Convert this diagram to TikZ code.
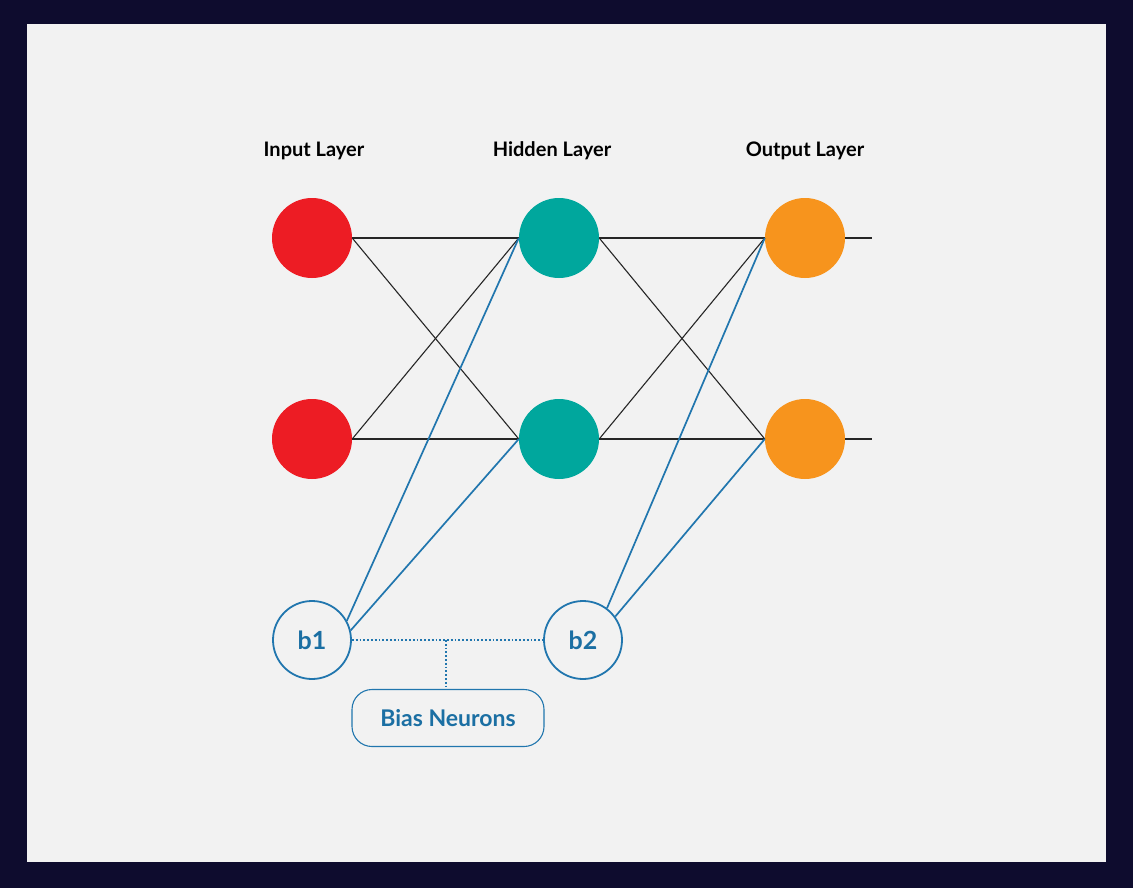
\documentclass[tikz,border=0pt]{standalone}
\usepackage{fontspec}
\setmainfont{Lato}
\definecolor{bgnavy}{HTML}{0E0C2E}
\definecolor{panel}{HTML}{F2F2F2}
\definecolor{inred}{HTML}{ED1C24}
\definecolor{hidteal}{HTML}{00A79D}
\definecolor{outorange}{HTML}{F7941D}
\definecolor{biasblue}{HTML}{2176AE}
\definecolor{biastext}{HTML}{1B6FA3}
\begin{document}
\begin{tikzpicture}[x=1pt,y=-1pt,
  neuron/.style={circle,minimum size=80pt,inner sep=0pt},
  inneuron/.style={neuron,fill=inred},
  hidneuron/.style={neuron,fill=hidteal},
  outneuron/.style={neuron,fill=outorange},
  biasneuron/.style={circle,draw=biasblue,line width=1.8pt,minimum size=78pt,inner sep=0pt,text=biastext,font=\fontsize{25}{25}\selectfont\bfseries},
  layerlabel/.style={font=\fontsize{20}{20}\selectfont\bfseries,text=black},
  wire/.style={draw=black!85,line width=1.1pt},
  biaswire/.style={draw=biasblue,line width=1.7pt},
  dotline/.style={draw=biasblue,line width=1.8pt,dotted},
  biasbox/.style={draw=biasblue,line width=1.1pt,rounded corners=20pt,minimum width=192pt,minimum height=57pt,text=biastext,font=\fontsize{23}{23}\selectfont\bfseries}
]
\useasboundingbox (0,0) rectangle (1133,888);
\fill[bgnavy] (0,0) rectangle (1133,888);
\fill[panel] (27,24) rectangle (1106,862);

\node[layerlabel] (lin) at (314,151) {Input Layer};
\node[layerlabel] (lhid) at (552,151) {Hidden Layer};
\node[layerlabel] (lout) at (805,151) {Output Layer};

\node[inneuron] (i1) at (312,238) {};
\node[inneuron] (i2) at (312,439) {};
\node[hidneuron] (h1) at (559,238) {};
\node[hidneuron] (h2) at (559,439) {};
\node[outneuron] (o1) at (805,238) {};
\node[outneuron] (o2) at (805,439) {};
\node[biasneuron] (b1) at (312,640) {b1};
\node[biasneuron] (b2) at (583,640) {b2};
\node[biasbox] (bn) at (448,718) {Bias Neurons};

\coordinate (e1) at (872,238);
\coordinate (e2) at (872,439);
\coordinate (tj) at (446,640);

\draw[wire] (i1.east) -- (h1.west);
\draw[wire] (i1.east) -- (h2.west);
\draw[wire] (i2.east) -- (h1.west);
\draw[wire] (i2.east) -- (h2.west);
\draw[wire] (h1.east) -- (o1.west);
\draw[wire] (h1.east) -- (o2.west);
\draw[wire] (h2.east) -- (o1.west);
\draw[wire] (h2.east) -- (o2.west);
\draw[wire] (o1.east) -- (e1);
\draw[wire] (o2.east) -- (e2);

\draw[biaswire] (b1.29) -- (h1.west);
\draw[biaswire] (b1.14) -- (h2.west);
\draw[biaswire] (b2.53) -- (o1.west);
\draw[biaswire] (b2.36) -- (o2.west);

\draw[dotline] (b1.east) -- (b2.west);
\draw[dotline] (tj) -- (bn.north -| tj);
\end{tikzpicture}
\end{document}
